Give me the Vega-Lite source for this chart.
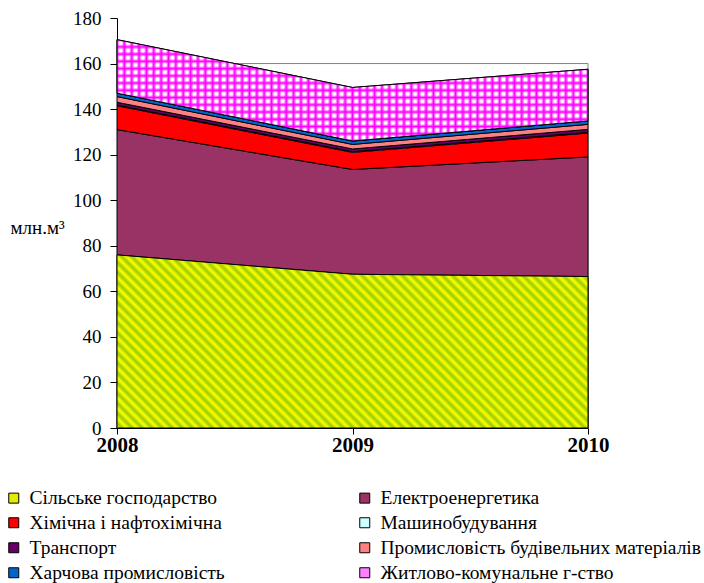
{
  "$schema": "https://vega.github.io/schema/vega-lite/v6.json",
  "width": 471,
  "height": 410,
  "autosize": {"type": "none"},
  "padding": {"left": 117, "top": 18, "right": 116, "bottom": 155},
  "config": {
    "font": "Liberation Serif, Times New Roman, serif",
    "view": {"stroke": null},
    "axis": {"grid": false, "domainColor": "black", "tickColor": "black", "labelColor": "black", "titleColor": "black", "domainWidth": 1, "tickWidth": 1, "labelFont": "Liberation Serif, Times New Roman, serif", "titleFont": "Liberation Serif, Times New Roman, serif"},
    "legend": {"labelFont": "Liberation Serif, Times New Roman, serif"}
  },
  "data": {
    "values": [
      {"year": 2008, "sector": "Сільське господарство", "ord": 1, "value": 76},
      {"year": 2009, "sector": "Сільське господарство", "ord": 1, "value": 67.5},
      {"year": 2010, "sector": "Сільське господарство", "ord": 1, "value": 66.5},
      {"year": 2008, "sector": "Електроенергетика", "ord": 2, "value": 55},
      {"year": 2009, "sector": "Електроенергетика", "ord": 2, "value": 46},
      {"year": 2010, "sector": "Електроенергетика", "ord": 2, "value": 52.5},
      {"year": 2008, "sector": "Хімічна і нафтохімічна", "ord": 3, "value": 10.5},
      {"year": 2009, "sector": "Хімічна і нафтохімічна", "ord": 3, "value": 7.5},
      {"year": 2010, "sector": "Хімічна і нафтохімічна", "ord": 3, "value": 10.5},
      {"year": 2008, "sector": "Машинобудування", "ord": 4, "value": 0.3},
      {"year": 2009, "sector": "Машинобудування", "ord": 4, "value": 0.3},
      {"year": 2010, "sector": "Машинобудування", "ord": 4, "value": 0.3},
      {"year": 2008, "sector": "Транспорт", "ord": 5, "value": 1.2},
      {"year": 2009, "sector": "Транспорт", "ord": 5, "value": 1.2},
      {"year": 2010, "sector": "Транспорт", "ord": 5, "value": 1.3},
      {"year": 2008, "sector": "Промисловість будівельних матеріалів", "ord": 6, "value": 2.5},
      {"year": 2009, "sector": "Промисловість будівельних матеріалів", "ord": 6, "value": 2},
      {"year": 2010, "sector": "Промисловість будівельних матеріалів", "ord": 6, "value": 2.2},
      {"year": 2008, "sector": "Харчова промисловість", "ord": 7, "value": 1.5},
      {"year": 2009, "sector": "Харчова промисловість", "ord": 7, "value": 1.5},
      {"year": 2010, "sector": "Харчова промисловість", "ord": 7, "value": 1.5},
      {"year": 2008, "sector": "Житлово-комунальне г-ство", "ord": 8, "value": 23.5},
      {"year": 2009, "sector": "Житлово-комунальне г-ство", "ord": 8, "value": 23.5},
      {"year": 2010, "sector": "Житлово-комунальне г-ство", "ord": 8, "value": 22.7}
    ]
  },
  "transform": [
    {"stack": "value", "groupby": ["year"], "sort": [{"field": "ord", "order": "ascending"}], "as": ["v0", "v1"]}
  ],
  "layer": [
    {
      "data": {"values": [{}]},
      "mark": {"type": "rule", "color": "#808080", "strokeWidth": 1},
      "encoding": {
        "y": {"datum": 160, "type": "quantitative"}
      }
    },
    {
      "data": {"values": [{}]},
      "mark": {"type": "rule", "color": "#808080", "strokeWidth": 1},
      "encoding": {
        "x": {"datum": 2010, "type": "ordinal"},
        "y": {"datum": 0, "type": "quantitative"},
        "y2": {"datum": 160}
      }
    },
    {
      "mark": {"type": "area", "stroke": "black", "strokeWidth": 1, "opacity": 1, "fillOpacity": 1},
      "encoding": {
        "x": {"field": "year", "type": "ordinal",
          "scale": {"type": "point", "padding": 0, "domain": [2008, 2009, 2010]},
          "axis": {"title": null, "labelAngle": 0, "labelFontWeight": "bold", "labelFontSize": 21, "labelOverlap": false, "labelBaseline": "top", "labelAlign": "center", "tickSize": 6, "labelPadding": 0}},
        "y": {"field": "v1", "type": "quantitative", "stack": null,
          "scale": {"domain": [0, 180], "nice": false},
          "axis": {"values": [0, 20, 40, 60, 80, 100, 120, 140, 160, 180], "tickSize": 7, "labelPadding": 9, "labelFontSize": 19, "labelOverlap": false, "title": "млн.м³", "titleAngle": 0, "titleFontWeight": "normal", "titleFontSize": 19, "titleX": -107, "titleY": 209, "titleAlign": "left", "titleBaseline": "middle"}},
        "y2": {"field": "v0"},
        "color": {
          "field": "sector", "type": "nominal",
          "scale": {
            "domain": ["Сільське господарство", "Електроенергетика", "Хімічна і нафтохімічна", "Машинобудування", "Транспорт", "Промисловість будівельних матеріалів", "Харчова промисловість", "Житлово-комунальне г-ство"],
            "range": ["#dfee00", "#993366", "#ff0000", "#ccffff", "#660066", "#ff8080", "#0066cc", "#ff80ff"]
          },
          "legend": {
            "title": null, "orient": "none", "legendX": -113, "legendY": 470, "columns": 2, "direction": "horizontal", "columnPadding": 130, "rowPadding": 4,
            "symbolType": "square", "symbolSize": 100, "symbolStrokeColor": "black", "symbolStrokeWidth": 1, "symbolOpacity": 1,
            "labelFont": "Liberation Serif, Times New Roman, serif", "labelFontSize": 19.5, "labelColor": "black", "labelLimit": 400, "labelOffset": 6
          }
        }
      }
    },
    {
      "transform": [{"filter": "datum.ord == 1"}],
      "mark": {
        "type": "area", "stroke": "black", "strokeWidth": 1,
        "fill": {"gradient": "linear", "x1": 0, "y1": 1, "x2": 1.2047, "y2": 0.5573, "stops": [
          {"offset": 0, "color": "#ff0"}, {"offset": 0.0078, "color": "#9c0"}, {"offset": 0.0156, "color": "#ff0"}, {"offset": 0.0234, "color": "#9c0"}, {"offset": 0.0313, "color": "#ff0"}, {"offset": 0.0391, "color": "#9c0"}, {"offset": 0.0469, "color": "#ff0"}, {"offset": 0.0547, "color": "#9c0"},
          {"offset": 0.0625, "color": "#ff0"}, {"offset": 0.0703, "color": "#9c0"}, {"offset": 0.0781, "color": "#ff0"}, {"offset": 0.0859, "color": "#9c0"}, {"offset": 0.0938, "color": "#ff0"}, {"offset": 0.1016, "color": "#9c0"}, {"offset": 0.1094, "color": "#ff0"}, {"offset": 0.1172, "color": "#9c0"},
          {"offset": 0.125, "color": "#ff0"}, {"offset": 0.1328, "color": "#9c0"}, {"offset": 0.1406, "color": "#ff0"}, {"offset": 0.1484, "color": "#9c0"}, {"offset": 0.1563, "color": "#ff0"}, {"offset": 0.1641, "color": "#9c0"}, {"offset": 0.1719, "color": "#ff0"}, {"offset": 0.1797, "color": "#9c0"},
          {"offset": 0.1875, "color": "#ff0"}, {"offset": 0.1953, "color": "#9c0"}, {"offset": 0.2031, "color": "#ff0"}, {"offset": 0.2109, "color": "#9c0"}, {"offset": 0.2188, "color": "#ff0"}, {"offset": 0.2266, "color": "#9c0"}, {"offset": 0.2344, "color": "#ff0"}, {"offset": 0.2422, "color": "#9c0"},
          {"offset": 0.25, "color": "#ff0"}, {"offset": 0.2578, "color": "#9c0"}, {"offset": 0.2656, "color": "#ff0"}, {"offset": 0.2734, "color": "#9c0"}, {"offset": 0.2813, "color": "#ff0"}, {"offset": 0.2891, "color": "#9c0"}, {"offset": 0.2969, "color": "#ff0"}, {"offset": 0.3047, "color": "#9c0"},
          {"offset": 0.3125, "color": "#ff0"}, {"offset": 0.3203, "color": "#9c0"}, {"offset": 0.3281, "color": "#ff0"}, {"offset": 0.3359, "color": "#9c0"}, {"offset": 0.3438, "color": "#ff0"}, {"offset": 0.3516, "color": "#9c0"}, {"offset": 0.3594, "color": "#ff0"}, {"offset": 0.3672, "color": "#9c0"},
          {"offset": 0.375, "color": "#ff0"}, {"offset": 0.3828, "color": "#9c0"}, {"offset": 0.3906, "color": "#ff0"}, {"offset": 0.3984, "color": "#9c0"}, {"offset": 0.4063, "color": "#ff0"}, {"offset": 0.4141, "color": "#9c0"}, {"offset": 0.4219, "color": "#ff0"}, {"offset": 0.4297, "color": "#9c0"},
          {"offset": 0.4375, "color": "#ff0"}, {"offset": 0.4453, "color": "#9c0"}, {"offset": 0.4531, "color": "#ff0"}, {"offset": 0.4609, "color": "#9c0"}, {"offset": 0.4688, "color": "#ff0"}, {"offset": 0.4766, "color": "#9c0"}, {"offset": 0.4844, "color": "#ff0"}, {"offset": 0.4922, "color": "#9c0"},
          {"offset": 0.5, "color": "#ff0"}, {"offset": 0.5078, "color": "#9c0"}, {"offset": 0.5156, "color": "#ff0"}, {"offset": 0.5234, "color": "#9c0"}, {"offset": 0.5313, "color": "#ff0"}, {"offset": 0.5391, "color": "#9c0"}, {"offset": 0.5469, "color": "#ff0"}, {"offset": 0.5547, "color": "#9c0"},
          {"offset": 0.5625, "color": "#ff0"}, {"offset": 0.5703, "color": "#9c0"}, {"offset": 0.5781, "color": "#ff0"}, {"offset": 0.5859, "color": "#9c0"}, {"offset": 0.5938, "color": "#ff0"}, {"offset": 0.6016, "color": "#9c0"}, {"offset": 0.6094, "color": "#ff0"}, {"offset": 0.6172, "color": "#9c0"},
          {"offset": 0.625, "color": "#ff0"}, {"offset": 0.6328, "color": "#9c0"}, {"offset": 0.6406, "color": "#ff0"}, {"offset": 0.6484, "color": "#9c0"}, {"offset": 0.6563, "color": "#ff0"}, {"offset": 0.6641, "color": "#9c0"}, {"offset": 0.6719, "color": "#ff0"}, {"offset": 0.6797, "color": "#9c0"},
          {"offset": 0.6875, "color": "#ff0"}, {"offset": 0.6953, "color": "#9c0"}, {"offset": 0.7031, "color": "#ff0"}, {"offset": 0.7109, "color": "#9c0"}, {"offset": 0.7188, "color": "#ff0"}, {"offset": 0.7266, "color": "#9c0"}, {"offset": 0.7344, "color": "#ff0"}, {"offset": 0.7422, "color": "#9c0"},
          {"offset": 0.75, "color": "#ff0"}, {"offset": 0.7578, "color": "#9c0"}, {"offset": 0.7656, "color": "#ff0"}, {"offset": 0.7734, "color": "#9c0"}, {"offset": 0.7813, "color": "#ff0"}, {"offset": 0.7891, "color": "#9c0"}, {"offset": 0.7969, "color": "#ff0"}, {"offset": 0.8047, "color": "#9c0"},
          {"offset": 0.8125, "color": "#ff0"}, {"offset": 0.8203, "color": "#9c0"}, {"offset": 0.8281, "color": "#ff0"}, {"offset": 0.8359, "color": "#9c0"}, {"offset": 0.8438, "color": "#ff0"}, {"offset": 0.8516, "color": "#9c0"}, {"offset": 0.8594, "color": "#ff0"}, {"offset": 0.8672, "color": "#9c0"},
          {"offset": 0.875, "color": "#ff0"}, {"offset": 0.8828, "color": "#9c0"}, {"offset": 0.8906, "color": "#ff0"}, {"offset": 0.8984, "color": "#9c0"}, {"offset": 0.9063, "color": "#ff0"}, {"offset": 0.9141, "color": "#9c0"}, {"offset": 0.9219, "color": "#ff0"}, {"offset": 0.9297, "color": "#9c0"},
          {"offset": 0.9375, "color": "#ff0"}, {"offset": 0.9453, "color": "#9c0"}, {"offset": 0.9531, "color": "#ff0"}, {"offset": 0.9609, "color": "#9c0"}, {"offset": 0.9688, "color": "#ff0"}, {"offset": 0.9766, "color": "#9c0"}, {"offset": 0.9844, "color": "#ff0"}, {"offset": 0.9922, "color": "#9c0"},
          {"offset": 1, "color": "#ff0"}
        ]}
      },
      "encoding": {
        "x": {"field": "year", "type": "ordinal"},
        "y": {"field": "v1", "type": "quantitative", "stack": null},
        "y2": {"field": "v0"}
      }
    },
    {
      "transform": [{"filter": "datum.ord == 8"}],
      "mark": {
        "type": "area", "strokeWidth": 0,
        "fill": {"gradient": "linear", "x1": 0, "y1": 0, "x2": 1, "y2": 0, "stops": [
          {"offset": 0, "color": "#f0f"}, {"offset": 0.0055, "color": "#fff"}, {"offset": 0.0102, "color": "#fff"},
          {"offset": 0.0156, "color": "#f0f"}, {"offset": 0.0211, "color": "#fff"}, {"offset": 0.0258, "color": "#fff"},
          {"offset": 0.0313, "color": "#f0f"}, {"offset": 0.0368, "color": "#fff"}, {"offset": 0.0415, "color": "#fff"},
          {"offset": 0.0469, "color": "#f0f"}, {"offset": 0.0524, "color": "#fff"}, {"offset": 0.0571, "color": "#fff"},
          {"offset": 0.0625, "color": "#f0f"}, {"offset": 0.068, "color": "#fff"}, {"offset": 0.0727, "color": "#fff"},
          {"offset": 0.0781, "color": "#f0f"}, {"offset": 0.0836, "color": "#fff"}, {"offset": 0.0883, "color": "#fff"},
          {"offset": 0.0938, "color": "#f0f"}, {"offset": 0.0993, "color": "#fff"}, {"offset": 0.104, "color": "#fff"},
          {"offset": 0.1094, "color": "#f0f"}, {"offset": 0.1149, "color": "#fff"}, {"offset": 0.1196, "color": "#fff"},
          {"offset": 0.125, "color": "#f0f"}, {"offset": 0.1305, "color": "#fff"}, {"offset": 0.1352, "color": "#fff"},
          {"offset": 0.1406, "color": "#f0f"}, {"offset": 0.1461, "color": "#fff"}, {"offset": 0.1508, "color": "#fff"},
          {"offset": 0.1563, "color": "#f0f"}, {"offset": 0.1618, "color": "#fff"}, {"offset": 0.1665, "color": "#fff"},
          {"offset": 0.1719, "color": "#f0f"}, {"offset": 0.1774, "color": "#fff"}, {"offset": 0.1821, "color": "#fff"},
          {"offset": 0.1875, "color": "#f0f"}, {"offset": 0.193, "color": "#fff"}, {"offset": 0.1977, "color": "#fff"},
          {"offset": 0.2031, "color": "#f0f"}, {"offset": 0.2086, "color": "#fff"}, {"offset": 0.2133, "color": "#fff"},
          {"offset": 0.2188, "color": "#f0f"}, {"offset": 0.2243, "color": "#fff"}, {"offset": 0.229, "color": "#fff"},
          {"offset": 0.2344, "color": "#f0f"}, {"offset": 0.2399, "color": "#fff"}, {"offset": 0.2446, "color": "#fff"},
          {"offset": 0.25, "color": "#f0f"}, {"offset": 0.2555, "color": "#fff"}, {"offset": 0.2602, "color": "#fff"},
          {"offset": 0.2656, "color": "#f0f"}, {"offset": 0.2711, "color": "#fff"}, {"offset": 0.2758, "color": "#fff"},
          {"offset": 0.2813, "color": "#f0f"}, {"offset": 0.2868, "color": "#fff"}, {"offset": 0.2915, "color": "#fff"},
          {"offset": 0.2969, "color": "#f0f"}, {"offset": 0.3024, "color": "#fff"}, {"offset": 0.3071, "color": "#fff"},
          {"offset": 0.3125, "color": "#f0f"}, {"offset": 0.318, "color": "#fff"}, {"offset": 0.3227, "color": "#fff"},
          {"offset": 0.3281, "color": "#f0f"}, {"offset": 0.3336, "color": "#fff"}, {"offset": 0.3383, "color": "#fff"},
          {"offset": 0.3438, "color": "#f0f"}, {"offset": 0.3493, "color": "#fff"}, {"offset": 0.354, "color": "#fff"},
          {"offset": 0.3594, "color": "#f0f"}, {"offset": 0.3649, "color": "#fff"}, {"offset": 0.3696, "color": "#fff"},
          {"offset": 0.375, "color": "#f0f"}, {"offset": 0.3805, "color": "#fff"}, {"offset": 0.3852, "color": "#fff"},
          {"offset": 0.3906, "color": "#f0f"}, {"offset": 0.3961, "color": "#fff"}, {"offset": 0.4008, "color": "#fff"},
          {"offset": 0.4063, "color": "#f0f"}, {"offset": 0.4118, "color": "#fff"}, {"offset": 0.4165, "color": "#fff"},
          {"offset": 0.4219, "color": "#f0f"}, {"offset": 0.4274, "color": "#fff"}, {"offset": 0.4321, "color": "#fff"},
          {"offset": 0.4375, "color": "#f0f"}, {"offset": 0.443, "color": "#fff"}, {"offset": 0.4477, "color": "#fff"},
          {"offset": 0.4531, "color": "#f0f"}, {"offset": 0.4586, "color": "#fff"}, {"offset": 0.4633, "color": "#fff"},
          {"offset": 0.4688, "color": "#f0f"}, {"offset": 0.4743, "color": "#fff"}, {"offset": 0.479, "color": "#fff"},
          {"offset": 0.4844, "color": "#f0f"}, {"offset": 0.4899, "color": "#fff"}, {"offset": 0.4946, "color": "#fff"},
          {"offset": 0.5, "color": "#f0f"}, {"offset": 0.5055, "color": "#fff"}, {"offset": 0.5102, "color": "#fff"},
          {"offset": 0.5156, "color": "#f0f"}, {"offset": 0.5211, "color": "#fff"}, {"offset": 0.5258, "color": "#fff"},
          {"offset": 0.5313, "color": "#f0f"}, {"offset": 0.5368, "color": "#fff"}, {"offset": 0.5415, "color": "#fff"},
          {"offset": 0.5469, "color": "#f0f"}, {"offset": 0.5524, "color": "#fff"}, {"offset": 0.5571, "color": "#fff"},
          {"offset": 0.5625, "color": "#f0f"}, {"offset": 0.568, "color": "#fff"}, {"offset": 0.5727, "color": "#fff"},
          {"offset": 0.5781, "color": "#f0f"}, {"offset": 0.5836, "color": "#fff"}, {"offset": 0.5883, "color": "#fff"},
          {"offset": 0.5938, "color": "#f0f"}, {"offset": 0.5993, "color": "#fff"}, {"offset": 0.604, "color": "#fff"},
          {"offset": 0.6094, "color": "#f0f"}, {"offset": 0.6149, "color": "#fff"}, {"offset": 0.6196, "color": "#fff"},
          {"offset": 0.625, "color": "#f0f"}, {"offset": 0.6305, "color": "#fff"}, {"offset": 0.6352, "color": "#fff"},
          {"offset": 0.6406, "color": "#f0f"}, {"offset": 0.6461, "color": "#fff"}, {"offset": 0.6508, "color": "#fff"},
          {"offset": 0.6563, "color": "#f0f"}, {"offset": 0.6618, "color": "#fff"}, {"offset": 0.6665, "color": "#fff"},
          {"offset": 0.6719, "color": "#f0f"}, {"offset": 0.6774, "color": "#fff"}, {"offset": 0.6821, "color": "#fff"},
          {"offset": 0.6875, "color": "#f0f"}, {"offset": 0.693, "color": "#fff"}, {"offset": 0.6977, "color": "#fff"},
          {"offset": 0.7031, "color": "#f0f"}, {"offset": 0.7086, "color": "#fff"}, {"offset": 0.7133, "color": "#fff"},
          {"offset": 0.7188, "color": "#f0f"}, {"offset": 0.7243, "color": "#fff"}, {"offset": 0.729, "color": "#fff"},
          {"offset": 0.7344, "color": "#f0f"}, {"offset": 0.7399, "color": "#fff"}, {"offset": 0.7446, "color": "#fff"},
          {"offset": 0.75, "color": "#f0f"}, {"offset": 0.7555, "color": "#fff"}, {"offset": 0.7602, "color": "#fff"},
          {"offset": 0.7656, "color": "#f0f"}, {"offset": 0.7711, "color": "#fff"}, {"offset": 0.7758, "color": "#fff"},
          {"offset": 0.7813, "color": "#f0f"}, {"offset": 0.7868, "color": "#fff"}, {"offset": 0.7915, "color": "#fff"},
          {"offset": 0.7969, "color": "#f0f"}, {"offset": 0.8024, "color": "#fff"}, {"offset": 0.8071, "color": "#fff"},
          {"offset": 0.8125, "color": "#f0f"}, {"offset": 0.818, "color": "#fff"}, {"offset": 0.8227, "color": "#fff"},
          {"offset": 0.8281, "color": "#f0f"}, {"offset": 0.8336, "color": "#fff"}, {"offset": 0.8383, "color": "#fff"},
          {"offset": 0.8438, "color": "#f0f"}, {"offset": 0.8493, "color": "#fff"}, {"offset": 0.854, "color": "#fff"},
          {"offset": 0.8594, "color": "#f0f"}, {"offset": 0.8649, "color": "#fff"}, {"offset": 0.8696, "color": "#fff"},
          {"offset": 0.875, "color": "#f0f"}, {"offset": 0.8805, "color": "#fff"}, {"offset": 0.8852, "color": "#fff"},
          {"offset": 0.8906, "color": "#f0f"}, {"offset": 0.8961, "color": "#fff"}, {"offset": 0.9008, "color": "#fff"},
          {"offset": 0.9063, "color": "#f0f"}, {"offset": 0.9118, "color": "#fff"}, {"offset": 0.9165, "color": "#fff"},
          {"offset": 0.9219, "color": "#f0f"}, {"offset": 0.9274, "color": "#fff"}, {"offset": 0.9321, "color": "#fff"},
          {"offset": 0.9375, "color": "#f0f"}, {"offset": 0.943, "color": "#fff"}, {"offset": 0.9477, "color": "#fff"},
          {"offset": 0.9531, "color": "#f0f"}, {"offset": 0.9586, "color": "#fff"}, {"offset": 0.9633, "color": "#fff"},
          {"offset": 0.9688, "color": "#f0f"}, {"offset": 0.9743, "color": "#fff"}, {"offset": 0.979, "color": "#fff"},
          {"offset": 0.9844, "color": "#f0f"}, {"offset": 0.9899, "color": "#fff"}, {"offset": 0.9946, "color": "#fff"},
          {"offset": 1, "color": "#f0f"}
        ]}
      },
      "encoding": {
        "x": {"field": "year", "type": "ordinal"},
        "y": {"field": "v1", "type": "quantitative", "stack": null},
        "y2": {"field": "v0"}
      }
    },
    {
      "transform": [{"filter": "datum.ord == 8"}],
      "mark": {
        "type": "area", "stroke": "black", "strokeWidth": 1,
        "fill": {"gradient": "linear", "x1": 0, "y1": 0, "x2": 0, "y2": 1, "stops": [
          {"offset": 0, "color": "#f0f"}, {"offset": 0.025, "color": "rgba(255,0,255,0)"}, {"offset": 0.0464, "color": "rgba(255,0,255,0)"},
          {"offset": 0.0714, "color": "#f0f"}, {"offset": 0.0964, "color": "rgba(255,0,255,0)"}, {"offset": 0.1178, "color": "rgba(255,0,255,0)"},
          {"offset": 0.1429, "color": "#f0f"}, {"offset": 0.1679, "color": "rgba(255,0,255,0)"}, {"offset": 0.1893, "color": "rgba(255,0,255,0)"},
          {"offset": 0.2143, "color": "#f0f"}, {"offset": 0.2393, "color": "rgba(255,0,255,0)"}, {"offset": 0.2607, "color": "rgba(255,0,255,0)"},
          {"offset": 0.2857, "color": "#f0f"}, {"offset": 0.3107, "color": "rgba(255,0,255,0)"}, {"offset": 0.3321, "color": "rgba(255,0,255,0)"},
          {"offset": 0.3571, "color": "#f0f"}, {"offset": 0.3821, "color": "rgba(255,0,255,0)"}, {"offset": 0.4035, "color": "rgba(255,0,255,0)"},
          {"offset": 0.4286, "color": "#f0f"}, {"offset": 0.4536, "color": "rgba(255,0,255,0)"}, {"offset": 0.475, "color": "rgba(255,0,255,0)"},
          {"offset": 0.5, "color": "#f0f"}, {"offset": 0.525, "color": "rgba(255,0,255,0)"}, {"offset": 0.5464, "color": "rgba(255,0,255,0)"},
          {"offset": 0.5714, "color": "#f0f"}, {"offset": 0.5964, "color": "rgba(255,0,255,0)"}, {"offset": 0.6178, "color": "rgba(255,0,255,0)"},
          {"offset": 0.6429, "color": "#f0f"}, {"offset": 0.6679, "color": "rgba(255,0,255,0)"}, {"offset": 0.6893, "color": "rgba(255,0,255,0)"},
          {"offset": 0.7143, "color": "#f0f"}, {"offset": 0.7393, "color": "rgba(255,0,255,0)"}, {"offset": 0.7607, "color": "rgba(255,0,255,0)"},
          {"offset": 0.7857, "color": "#f0f"}, {"offset": 0.8107, "color": "rgba(255,0,255,0)"}, {"offset": 0.8321, "color": "rgba(255,0,255,0)"},
          {"offset": 0.8571, "color": "#f0f"}, {"offset": 0.8821, "color": "rgba(255,0,255,0)"}, {"offset": 0.9035, "color": "rgba(255,0,255,0)"},
          {"offset": 0.9286, "color": "#f0f"}, {"offset": 0.9536, "color": "rgba(255,0,255,0)"}, {"offset": 0.975, "color": "rgba(255,0,255,0)"},
          {"offset": 1, "color": "#f0f"}
        ]}
      },
      "encoding": {
        "x": {"field": "year", "type": "ordinal"},
        "y": {"field": "v1", "type": "quantitative", "stack": null},
        "y2": {"field": "v0"}
      }
    }
  ]
}
